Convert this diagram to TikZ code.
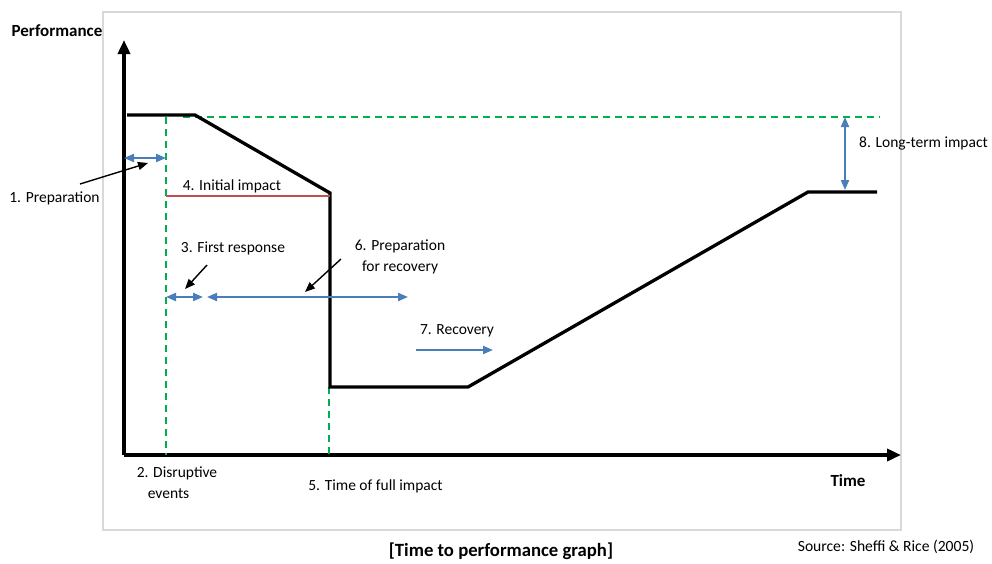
\documentclass[tikz,border=0pt]{standalone}
\usepackage{fontspec}
\setmainfont{Carlito}
\usetikzlibrary{arrows.meta}
\definecolor{flowblue}{HTML}{4A7EBB}
\definecolor{guidegreen}{HTML}{00B050}
\definecolor{impactred}{HTML}{C0504D}
\definecolor{framegray}{HTML}{D9D9D9}
\begin{document}
\begin{tikzpicture}[x=1pt,y=-1pt,
  axis/.style={line width=4.2pt,-{Triangle[length=14pt,width=12pt]}},
  curve/.style={line width=3.3pt,line join=miter},
  guide/.style={guidegreen,line width=1.6pt,dash pattern=on 7pt off 5pt},
  span/.style={flowblue,line width=2pt,{Triangle[length=10pt,width=8pt]}-{Triangle[length=10pt,width=8pt]}},
  ahead/.style={flowblue,line width=2pt,-{Triangle[length=10pt,width=8pt]}},
  pointer/.style={black,line width=1.4pt,-{Triangle[length=10pt,width=8pt]}},
  lbl/.style={font=\fontsize{15.5}{21}\selectfont,inner sep=0pt},
  head/.style={font=\bfseries\fontsize{17}{20}\selectfont,inner sep=0pt}]
\useasboundingbox (0,0) rectangle (992,563);

% frame
\draw[framegray,line width=1.5pt] (103,12) rectangle (901,530);

% axes
\coordinate (O) at (124,455);
\coordinate (ytip) at (124,40);
\coordinate (xtip) at (901,455);
\draw[axis] (O) -- (ytip);
\draw[axis] (O) -- (xtip);
\node[head] (perf) at (57,31) {Performance};
\node[head] (time) at (848,481) {Time};

% reference levels and event times
\coordinate (gA) at (183,117);
\coordinate (gB) at (880,117);
\coordinate (e1top) at (166,117);
\coordinate (e1bot) at (166,455);
\coordinate (e2top) at (329,387);
\coordinate (e2bot) at (329,455);
\draw[guide] (gA) -- (gB);
\draw[guide] (e1top) -- (e1bot);
\draw[guide] (e2top) -- (e2bot);

% performance curve
\coordinate (p1) at (127,115);
\coordinate (p2) at (195,115);
\coordinate (p3) at (330,193);
\coordinate (p4) at (330,387);
\coordinate (p5) at (468,387);
\coordinate (p6) at (808,192);
\coordinate (p7) at (877,192);
\draw[curve] (p1) -- (p2) -- (p3) -- (p4) -- (p5) -- (p6) -- (p7);

% initial impact level
\coordinate (r1) at (166,196);
\coordinate (r2) at (330,196);
\draw[impactred,line width=1.4pt] (r1) -- (r2);
\node[lbl] (initial) at (232,186) {4. Initial impact};

% 1. preparation
\coordinate (prepL) at (124,158);
\coordinate (prepR) at (166,158);
\draw[span] (prepL) -- (prepR);
\node[lbl] (prep) at (54.5,198) {1. Preparation};
\coordinate (prepFrom) at (80,184);
\coordinate (prepTo) at (148,163);
\draw[pointer] (prepFrom) -- (prepTo);

% 3. first response and 6. preparation for recovery
\coordinate (frL) at (166,297);
\coordinate (frR) at (203,297);
\coordinate (prL) at (207,297);
\coordinate (prR) at (408,297);
\draw[span] (frL) -- (frR);
\draw[span] (prL) -- (prR);
\node[lbl] (first) at (233,248) {3. First response};
\coordinate (frFrom) at (207,265);
\coordinate (frTo) at (185,289);
\draw[pointer] (frFrom) -- (frTo);
\node[lbl,align=center] (prepRec) at (400,257) {6. Preparation\\ for recovery};
\coordinate (prFrom) at (341,259);
\coordinate (prTo) at (305,292);
\draw[pointer] (prFrom) -- (prTo);

% 7. recovery
\node[lbl] (recov) at (457,331) {7. Recovery};
\coordinate (rcL) at (416,350);
\coordinate (rcR) at (493,350);
\draw[ahead] (rcL) -- (rcR);

% 8. long-term impact
\coordinate (ltTop) at (845,117);
\coordinate (ltBot) at (845,190);
\draw[span] (ltTop) -- (ltBot);
\node[lbl,anchor=west] (longterm) at (859,143) {8. Long-term impact};

% event labels
\node[lbl,align=left] (disrupt) at (177,483) {2. Disruptive\\\hspace*{11pt}events};
\node[lbl] (full) at (375.5,486) {5. Time of full impact};

% caption and source
\node[head,font=\bfseries\fontsize{18.7}{22}\selectfont] (caption) at (501,551) {[Time to performance graph]};
\node[lbl,font=\fontsize{15.6}{18}\selectfont] (source) at (886,547) {Source: Sheffi \& Rice (2005)};
\end{tikzpicture}
\end{document}
